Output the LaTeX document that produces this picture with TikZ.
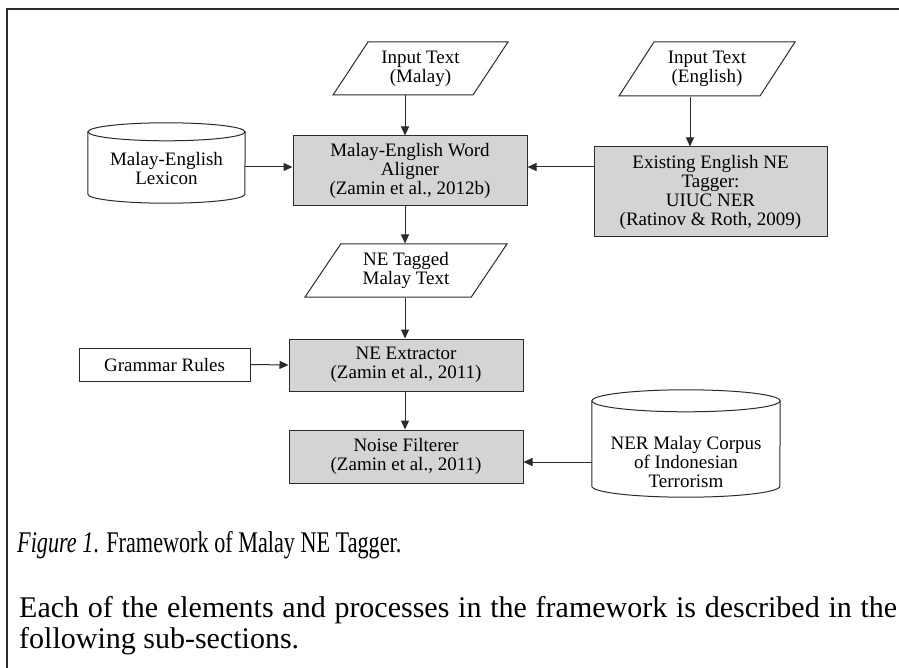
\documentclass[tikz,border=0pt]{standalone}
\usepackage{fontspec}
\setmainfont{Liberation Serif}
\usetikzlibrary{arrows.meta,shapes.geometric}
\definecolor{boxgray}{HTML}{D4D4D4}
\definecolor{linegray}{HTML}{2B2B2B}
\tikzset{process/.style={rectangle,draw=linegray,fill=boxgray,line width=1pt,
 align=center,inner sep=2pt,text=black,font=\fontsize{19}{19}\selectfont},
 rulebox/.style={process,fill=white},
 inputdata/.style={trapezium,trapezium left angle=47,trapezium right angle=133,
 trapezium stretches body,draw=linegray,fill=white,line width=1pt,
 align=center,inner sep=1pt,text=black,font=\fontsize{19}{19}\selectfont},
 datastore/.style={rectangle,inner sep=0pt},
 storetext/.style={align=center,inner sep=0pt,text=black,font=\fontsize{19}{19}\selectfont},
 outline/.style={draw=linegray,fill=white,line width=1pt},
 flow/.style={draw=linegray,line width=1pt,-{Triangle[length=9pt,width=8pt]}},
 caption/.style={anchor=base west,inner sep=0pt,text=black,font=\fontsize{30}{31}\selectfont},
 frame/.style={draw=linegray,line width=2pt}}
\newcommand{\drumshape}[3]{%
 \path[outline] ([yshift=-#3]#1.north west) -- ([yshift=#3]#1.south west)
   arc[start angle=180,end angle=360,x radius=#2,y radius=#3]
   -- ([yshift=-#3]#1.north east) -- cycle;
 \draw[outline] ([yshift=-#3]#1.north) ellipse[x radius=#2,y radius=#3];}

\begin{document}
\begin{tikzpicture}[x=1pt,y=-1pt]
 \useasboundingbox (0,0) rectangle (899,668);
 \draw[frame] (7,668) -- (7,9) -- (899,9);
 \coordinate (spine) at (405,0);
 \coordinate (engline) at (690,0);
 \coordinate (alignrow) at (0,167);
 \coordinate (corpusrow) at (0,462);
 \node[inputdata,minimum width=175pt,minimum height=53pt] (inmalay) at (420.5,68.5) {Input Text\\(Malay)};
 \node[inputdata,minimum width=176pt,minimum height=54pt] (inenglish) at (707,69) {Input Text\\(English)};
 \node[process,minimum width=234pt,minimum height=70pt] (aligner) at (410,171)
  {Malay-English Word\\Aligner\\(Zamin et al., 2012b)};
 \node[process,minimum width=233pt,minimum height=90pt] (tagger) at (710.5,192)
  {Existing English NE\\Tagger:\\UIUC NER\\(Ratinov \& Roth, 2009)};
 \node[datastore,minimum width=157pt,minimum height=80pt] (lexicon) at (166.5,163) {};
 \drumshape{lexicon}{78.5pt}{9pt}
 \node[storetext] (lexicontext) at (166.5,169) {Malay-English\\Lexicon};
 \node[inputdata,minimum width=202pt,minimum height=53pt] (tagged) at (406,270.5) {NE Tagged\\Malay Text};
 \node[rulebox,minimum width=171pt,minimum height=33pt] (grammar) at (164.5,364.5) {Grammar Rules};
 \node[process,minimum width=234pt,minimum height=52pt] (extractor) at (406,365)
  {NE Extractor\\(Zamin et al., 2011)};
 \node[process,minimum width=234pt,minimum height=53pt] (noise) at (406,456.5)
  {Noise Filterer\\(Zamin et al., 2011)};
 \node[datastore,minimum width=188pt,minimum height=107pt] (corpus) at (686,443.5) {};
 \drumshape{corpus}{94pt}{11pt}
 \node[storetext] (corpustext) at (686,462) {NER Malay Corpus\\of Indonesian\\Terrorism};
 \draw[flow] (inmalay.south -| spine) -- (aligner.north -| spine);
 \draw[flow] (inenglish.south -| engline) -- (tagger.north -| engline);
 \draw[flow] (lexicon.east |- alignrow) -- (aligner.west |- alignrow);
 \draw[flow] (tagger.west |- alignrow) -- (aligner.east |- alignrow);
 \draw[flow] (aligner.south -| spine) -- (tagged.north -| spine);
 \draw[flow] (tagged.south -| spine) -- (extractor.north -| spine);
 \draw[flow] (grammar.east) -- (extractor.west);
 \draw[flow] (extractor.south -| spine) -- (noise.north -| spine);
 \draw[flow] (corpus.west |- corpusrow) -- (noise.east |- corpusrow);
 \node[caption] (figcap) at (17,552)
  {\scalebox{0.74}[1]{\textit{Figure 1}. Framework of Malay NE Tagger.}};
 \node[caption] (bodyone) at (19,617)
  {\makebox[878pt][s]{Each of the elements and processes in the framework is described in the}};
 \node[caption] (bodytwo) at (19,648) {following sub-sections.};
\end{tikzpicture}
\end{document}
